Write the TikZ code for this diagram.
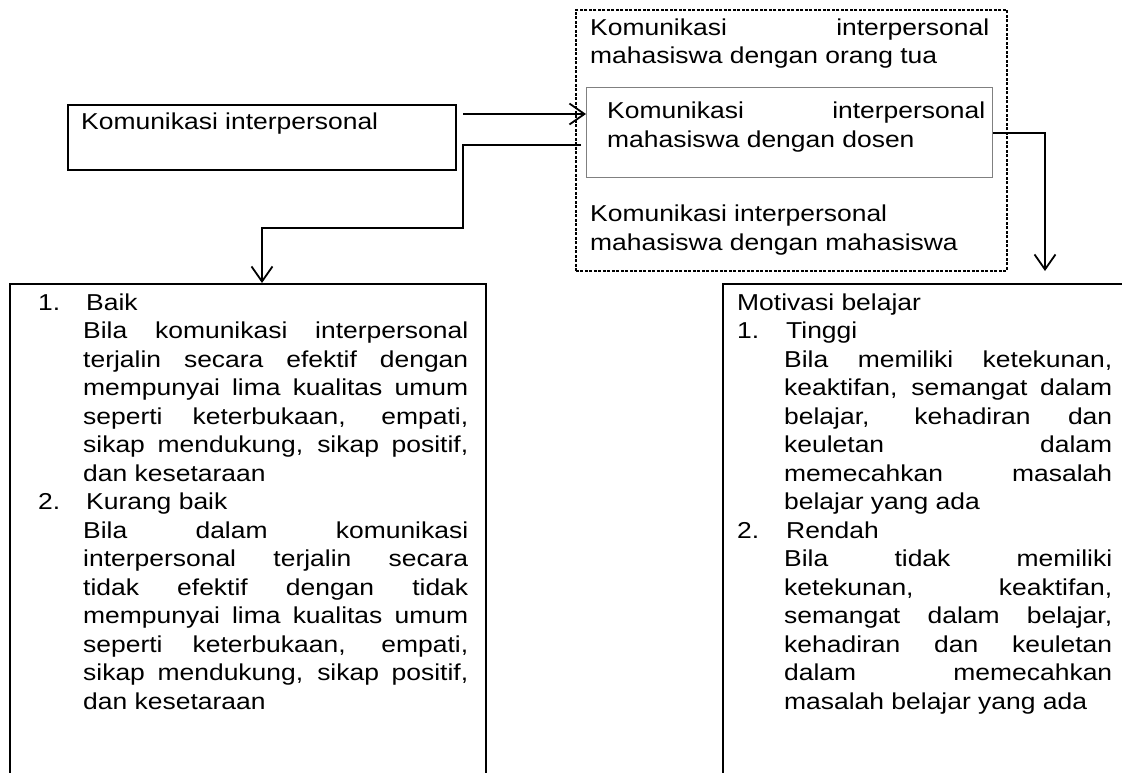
\documentclass[tikz,border=0pt]{standalone}
\usepackage{fontspec}
\setmainfont{Liberation Sans}[FakeStretch=1.15]
\usetikzlibrary{arrows.meta}
\newcommand\jst[2]{\makebox[#1][s]{#2}}
\newcommand\ljline[1]{\hspace*{45pt}\makebox[385pt][s]{#1}}
\newcommand\rjline[1]{\hspace*{47pt}\makebox[328pt][s]{#1}}
\begin{document}
\begin{tikzpicture}[x=1pt,y=-1pt,
  fbox/.style={draw, line width=2pt, inner sep=0pt, anchor=north west},
  txt/.style={inner sep=0pt, anchor=north west, align=left, font=\fontsize{23}{28.5}\selectfont},
  arr/.style={line width=1.8pt, -{Straight Barb[length=15pt,width=21pt,line width=1.8pt]}}]
\path[use as bounding box, clip] (0,0) rectangle (1122,772);
\fill[white] (0,0) rectangle (1122,772);

% boxes
\node[fbox, minimum width=388pt, minimum height=65pt] (tl) at (67,104) {};
\node[draw, dash pattern=on 3pt off 1.5pt, line width=1.5pt, inner sep=0pt, anchor=north west,
      minimum width=431pt, minimum height=261pt] (dot) at (575,9) {};
\node[draw=black!50, line width=1.2pt, inner sep=0pt, anchor=north west,
      minimum width=406pt, minimum height=90pt] (inner) at (586,87) {};
\node[fbox, minimum width=476pt, minimum height=560pt] (lb) at (9,283) {};
\node[fbox, minimum width=480pt, minimum height=560pt] (rb) at (722,283) {};

% texts
\node[txt] (t0) at (81,111) {\rule{0pt}{18pt}Komunikasi interpersonal};
\node[txt] (t1) at (590,17) {\rule{0pt}{18pt}\jst{399pt}{Komunikasi interpersonal}\\mahasiswa dengan orang tua};
\node[txt] (t2) at (607,100.5) {\rule{0pt}{18pt}\jst{378pt}{Komunikasi interpersonal}\\mahasiswa dengan dosen};
\node[txt] (t3) at (590,203.5) {\rule{0pt}{18pt}Komunikasi interpersonal\\mahasiswa dengan mahasiswa};

\node[txt] (lt) at (38,292) {\rule{0pt}{18pt}\makebox[48pt][l]{1.}Baik\\
\ljline{Bila komunikasi interpersonal}\\
\ljline{terjalin secara efektif dengan}\\
\ljline{mempunyai lima kualitas umum}\\
\ljline{seperti keterbukaan, empati,}\\
\ljline{sikap mendukung, sikap positif,}\\
\hspace*{45pt}dan kesetaraan\\
\makebox[48pt][l]{2.}Kurang baik\\
\ljline{Bila dalam komunikasi}\\
\ljline{interpersonal terjalin secara}\\
\ljline{tidak efektif dengan tidak}\\
\ljline{mempunyai lima kualitas umum}\\
\ljline{seperti keterbukaan, empati,}\\
\ljline{sikap mendukung, sikap positif,}\\
\hspace*{45pt}dan kesetaraan};

\node[txt] (rt) at (737,292) {\rule{0pt}{18pt}Motivasi belajar\\
\makebox[49pt][l]{1.}Tinggi\\
\rjline{Bila memiliki ketekunan,}\\
\rjline{keaktifan, semangat dalam}\\
\rjline{belajar, kehadiran dan}\\
\rjline{keuletan dalam}\\
\rjline{memecahkan masalah}\\
\hspace*{47pt}belajar yang ada\\
\makebox[49pt][l]{2.}Rendah\\
\rjline{Bila tidak memiliki}\\
\rjline{ketekunan, keaktifan,}\\
\rjline{semangat dalam belajar,}\\
\rjline{kehadiran dan keuletan}\\
\rjline{dalam memecahkan}\\
\hspace*{47pt}masalah belajar yang ada};

% connectors
\coordinate (a1) at (463,114);
\draw[arr, line width=2.2pt] (a1) -- (a1 -| inner.west);
\coordinate (c2) at (581,145);
\coordinate (c2b) at (262,228);
\draw[arr] (c2) -- (463,145) -- (463,228) -- (c2b) -- (c2b |- lb.north);
\coordinate (c3s) at (992,133);
\coordinate (c3) at (1045,271);
\draw[arr] (c3s -| inner.east) -- (c3 |- c3s) -- (c3);
\end{tikzpicture}
\end{document}
